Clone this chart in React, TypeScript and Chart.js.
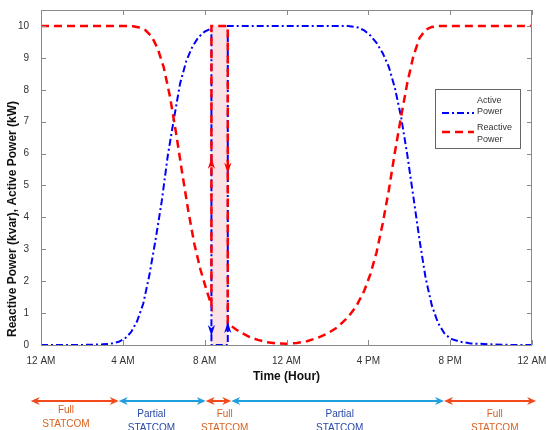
import React, { useEffect, useRef } from 'react';
import { Chart, registerables } from 'chart.js';

Chart.register(...registerables);

// ---- data ----
const hourTicks = [0, 4, 8, 12, 16, 20, 24];
const hourTickLabels = ['12 AM', '4 AM', '8 AM', '12 AM', '4 PM', '8 PM', '12 AM'];
const powerTicks = [0, 1, 2, 3, 4, 5, 6, 7, 8, 9, 10];

const activeHours = [
  0, 1, 2, 2.5, 3, 3.4, 3.8, 4.1, 4.4, 4.7, 5.0, 5.3, 5.6, 5.9, 6.2, 6.5, 6.8, 7.1, 7.4, 7.7, 8.0, 8.33,
  8.33, 9.13, 9.13,
  10, 12, 14, 15, 15.5, 15.8, 16.1, 16.4, 16.7, 17.0, 17.3, 17.6, 17.9, 18.2, 18.5, 18.8, 19.1, 19.4, 19.7,
  20.0, 20.5, 21, 22, 23, 24,
];
const activePower = [
  0, 0, 0, 0.01, 0.02, 0.04, 0.1, 0.2, 0.4, 0.75, 1.3, 2.2, 3.3, 4.5, 5.95, 7.1, 8.2, 8.9, 9.35, 9.65, 9.82, 9.92,
  0, 0, 10,
  10, 10, 10, 10, 9.95, 9.86, 9.7, 9.47, 9.15, 8.72, 8.05, 7.15, 5.98, 4.65, 3.3, 2.1, 1.25, 0.7, 0.38,
  0.2, 0.1, 0.05, 0.02, 0, 0,
];

const reactiveHours = [
  0, 2, 4, 4.5, 4.8, 5.1, 5.4, 5.7, 6.0, 6.3, 6.6, 6.9, 7.2, 7.5, 7.8, 8.1, 8.33,
  8.33, 9.13, 9.13,
  9.5, 9.8, 10.2, 10.6, 11.0, 11.5, 12.0, 12.5, 13.0, 13.5, 14.0, 14.5, 15.0, 15.4, 15.8, 16.1, 16.4, 16.7,
  17.0, 17.3, 17.6, 17.9, 18.2, 18.5, 18.8, 19.1, 19.5, 20, 22, 24,
];
const reactivePower = [
  10, 10, 10, 9.99, 9.95, 9.87, 9.68, 9.3, 8.7, 7.8, 6.65, 5.4, 4.2, 3.15, 2.35, 1.7, 1.25,
  10, 10, 0.68,
  0.5, 0.38, 0.25, 0.16, 0.09, 0.05, 0.04, 0.06, 0.12, 0.22, 0.36, 0.56, 0.87, 1.2, 1.7, 2.22, 2.9, 3.8,
  4.85, 6.05, 7.15, 8.2, 9.05, 9.62, 9.88, 9.97, 10, 10, 10, 10,
];

const transitionWindow = [8.33, 9.13];
const modeBounds = [-0.5, 3.8, 8.05, 9.3, 19.7, 24.2];
const modeNames = ['Full', 'Partial', 'Full', 'Partial', 'Full'];
const modeTextHours = [1.22, 5.4, 8.98, 14.6, 22.18];
const modeSubtitle = 'STATCOM';
const legendLabels = [['Active', 'Power'], ['Reactive', 'Power']];
const seriesNames = ['Active Power', 'Reactive Power'];

const xTitle = 'Time (Hour)';
const yTitle = 'Reactive Power (kvar), Active Power (kW)';

const BLUE = '#0000ff';
const RED = '#ff0000';
const FONT = '"Liberation Sans", Arial, Helvetica, sans-serif';

function drawHead(ctx: CanvasRenderingContext2D, x: number, y: number, dx: number, dy: number, len: number, half: number) {
  const bx = x - dx * len;
  const by = y - dy * len;
  const px = -dy;
  const py = dx;
  ctx.beginPath();
  ctx.moveTo(x, y);
  ctx.lineTo(bx + px * half, by + py * half);
  ctx.lineTo(x - dx * len * 0.7, y - dy * len * 0.7);
  ctx.lineTo(bx - px * half, by - py * half);
  ctx.closePath();
  ctx.fill();
}

const decorPlugin = {
  id: 'decor',
  beforeDatasetsDraw(chart: any) {
    const { ctx, scales } = chart;
    const x = scales.x;
    const y = scales.y;
    const x0 = x.getPixelForValue(transitionWindow[0]);
    const x1 = x.getPixelForValue(transitionWindow[1]);
    const yt = y.getPixelForValue(10);
    const yb = y.getPixelForValue(0);
    ctx.save();
    ctx.fillStyle = '#fbe2e5';
    ctx.fillRect(x0, yt, x1 - x0, yb - yt);
    ctx.restore();
  },
  afterDatasetsDraw(chart: any) {
    const { ctx, scales } = chart;
    const x = scales.x;
    const y = scales.y;
    const marks = [
      { t: transitionWindow[0], v: 5.87, up: true, c: RED },
      { t: transitionWindow[1], v: 5.37, up: false, c: RED },
      { t: transitionWindow[0], v: 0.28, up: false, c: BLUE },
      { t: transitionWindow[1], v: 0.72, up: true, c: BLUE },
    ];
    ctx.save();
    for (const m of marks) {
      ctx.fillStyle = m.c;
      drawHead(ctx, x.getPixelForValue(m.t), y.getPixelForValue(m.v), 0, m.up ? -1 : 1, 11, 3.6);
    }
    ctx.restore();
  },
  afterDraw(chart: any) {
    const { ctx, chartArea: a, scales } = chart;
    const x = scales.x;
    const y = scales.y;
    ctx.save();
    ctx.strokeStyle = '#8a8a8a';
    ctx.lineWidth = 1;
    ctx.strokeRect(a.left + 0.5, a.top + 0.5, a.right - a.left - 1, a.bottom - a.top);
    ctx.beginPath();
    for (const v of hourTicks) {
      const px = Math.round(x.getPixelForValue(v)) + 0.5;
      ctx.moveTo(px, a.bottom);
      ctx.lineTo(px, a.bottom - 5);
      ctx.moveTo(px, a.top);
      ctx.lineTo(px, a.top + 5);
    }
    for (const v of powerTicks) {
      const py = Math.round(y.getPixelForValue(v)) + 0.5;
      ctx.moveTo(a.left, py);
      ctx.lineTo(a.left + 5, py);
      ctx.moveTo(a.right, py);
      ctx.lineTo(a.right - 5, py);
    }
    ctx.stroke();

    // y title
    ctx.fillStyle = '#111';
    ctx.font = `bold 12px ${FONT}`;
    ctx.textAlign = 'left';
    ctx.textBaseline = 'middle';
    ctx.save();
    ctx.translate(13, 337);
    ctx.rotate(-Math.PI / 2);
    ctx.fillText(yTitle, 0, 0);
    ctx.restore();

    // legend
    const lx = 435, ly = 89, lw = 85, lh = 59;
    ctx.fillStyle = '#ffffff';
    ctx.fillRect(lx, ly, lw, lh);
    ctx.strokeStyle = '#666';
    ctx.lineWidth = 1;
    ctx.strokeRect(lx + 0.5, ly + 0.5, lw, lh);
    const rows = [
      { ly: 113, t1: 100.5, t2: 111.5, c: BLUE, dash: [7, 3, 2, 3], w: 2 },
      { ly: 132, t1: 128, t2: 139.5, c: RED, dash: [8, 5], w: 2.5 },
    ];
    rows.forEach((r, i) => {
      ctx.save();
      ctx.strokeStyle = r.c;
      ctx.lineWidth = r.w;
      ctx.setLineDash(r.dash);
      ctx.beginPath();
      ctx.moveTo(442, r.ly);
      ctx.lineTo(474, r.ly);
      ctx.stroke();
      ctx.restore();
      ctx.fillStyle = '#333';
      ctx.font = `9px ${FONT}`;
      ctx.textAlign = 'left';
      ctx.textBaseline = 'middle';
      ctx.fillText(legendLabels[i][0], 477, r.t1);
      ctx.fillText(legendLabels[i][1], 477, r.t2);
    });

    // operating-mode arrows
    const arrowY = 401;
    for (let i = 0; i < modeNames.length; i++) {
      const full = modeNames[i] === 'Full';
      const xa = x.getPixelForValue(modeBounds[i]);
      const xb = x.getPixelForValue(modeBounds[i + 1]);
      const col = full ? '#f2491d' : '#1f9fe0';
      ctx.strokeStyle = col;
      ctx.fillStyle = col;
      ctx.lineWidth = 2;
      ctx.beginPath();
      ctx.moveTo(xa + 4, arrowY);
      ctx.lineTo(xb - 4, arrowY);
      ctx.stroke();
      drawHead(ctx, xa, arrowY, -1, 0, 9, 4);
      drawHead(ctx, xb, arrowY, 1, 0, 9, 4);
      const tx = x.getPixelForValue(modeTextHours[i]);
      const off = i === 0 ? 0 : 4;
      ctx.fillStyle = full ? '#d8601e' : '#2a48a8';
      ctx.font = `10px ${FONT}`;
      ctx.textAlign = 'center';
      ctx.textBaseline = 'middle';
      ctx.fillText(modeNames[i], tx, 410 + off);
      ctx.fillText(modeSubtitle, tx, 424 + off);
    }
    ctx.restore();
  },
};

export default function App() {
  const ref = useRef<HTMLCanvasElement | null>(null);

  useEffect(() => {
    if (!ref.current) return;
    Chart.defaults.font.family = FONT;
    const activeData = activeHours.map((h, i) => ({ x: h, y: activePower[i] }));
    const reactiveData = reactiveHours.map((h, i) => ({ x: h, y: reactivePower[i] }));
    const chart = new Chart(ref.current, {
      type: 'line',
      data: {
        datasets: [
          {
            label: seriesNames[0],
            data: activeData,
            borderColor: BLUE,
            borderWidth: 2,
            borderDash: [7, 3, 2, 3],
            pointRadius: 0,
            tension: 0,
            fill: false,
            order: 2,
            clip: 4,
          } as any,
          {
            label: seriesNames[1],
            data: reactiveData,
            borderColor: RED,
            borderWidth: 2.5,
            borderDash: [8, 5],
            pointRadius: 0,
            tension: 0,
            fill: false,
            order: 1,
            clip: 4,
          } as any,
        ],
      },
      options: {
        animation: false,
        responsive: false,
        devicePixelRatio: 1,
        events: [],
        layout: { padding: { left: 0, right: 14, top: 10, bottom: 43 } },
        plugins: {
          legend: { display: false },
          tooltip: { enabled: false },
        },
        scales: {
          x: {
            type: 'linear',
            min: 0,
            max: 24,
            grid: { display: false },
            border: { display: false },
            afterBuildTicks: (s: any) => {
              s.ticks = hourTicks.map((v) => ({ value: v }));
            },
            afterFit: (s: any) => {
              s.height = 42;
              s.paddingLeft = 0;
              s.paddingRight = 0;
            },
            ticks: {
              maxRotation: 0,
              autoSkip: false,
              padding: 2,
              color: '#333',
              font: { size: 10 },
              callback: (v: any) => hourTickLabels[hourTicks.indexOf(Number(v))] ?? '',
            },
            title: {
              display: true,
              text: xTitle,
              color: '#111',
              font: { size: 12, weight: 'bold' },
              padding: { top: 0, bottom: 3 },
            },
          },
          y: {
            type: 'linear',
            min: 0,
            max: 10.5,
            grid: { display: false },
            border: { display: false },
            afterBuildTicks: (s: any) => {
              s.ticks = powerTicks.map((v) => ({ value: v }));
            },
            afterFit: (s: any) => {
              s.width = 41;
              s.paddingTop = 0;
              s.paddingBottom = 0;
            },
            ticks: {
              padding: 4,
              color: '#333',
              font: { size: 10 },
            },
          },
        },
      } as any,
      plugins: [decorPlugin],
    });
    return () => chart.destroy();
  }, []);

  return (
    <div style={{ position: 'absolute', left: 0, top: 0, width: 546, height: 430, background: '#fff' }}>
      <canvas ref={ref} width={546} height={430} style={{ width: 546, height: 430, display: 'block' }} />
    </div>
  );
}
